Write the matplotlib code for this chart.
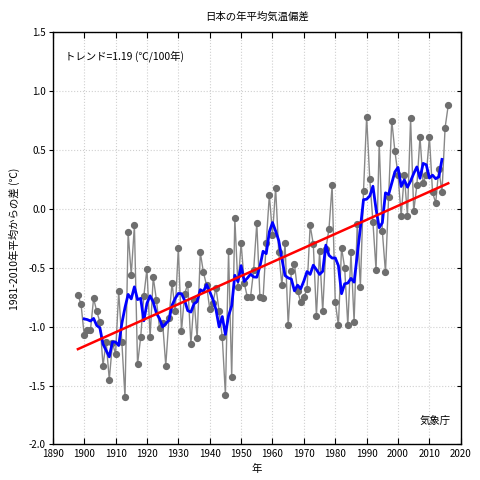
import numpy as np
import matplotlib
matplotlib.use("Agg")
import matplotlib.pyplot as plt

plt.rcParams['font.family'] = ['Noto Sans CJK JP', 'DejaVu Sans']

# 日本の年平均気温偏差 (1981-2010年平均からの差, ℃)
years = np.arange(1898, 2017)
anomaly = [
    -0.73, -0.81, -1.07, -1.03, -1.03, -0.76, -0.87, -0.96, -1.33, -1.13,   # 1898-1907
    -1.45, -1.14, -1.23, -0.70, -1.13, -1.60, -0.20, -0.56, -0.14, -1.32,   # 1908-1917
    -1.09, -0.74, -0.51, -1.09, -0.58, -0.77, -1.01, -0.97, -1.33, -0.93,   # 1918-1927
    -0.63, -0.87, -0.33, -1.04, -0.72, -0.64, -1.15, -0.77, -1.10, -0.37,   # 1928-1937
    -0.54, -0.65, -0.85, -0.80, -0.67, -0.87, -1.09, -1.58, -0.36, -1.43,   # 1938-1947
    -0.08, -0.66, -0.29, -0.63, -0.75, -0.75, -0.52, -0.12, -0.75, -0.76,   # 1948-1957
    -0.29, 0.12, -0.22, 0.18, -0.37, -0.65, -0.29, -0.99, -0.53, -0.47,     # 1958-1967
    -0.70, -0.79, -0.75, -0.68, -0.14, -0.30, -0.91, -0.36, -0.87, -0.34,   # 1968-1977
    -0.17, 0.20, -0.79, -0.99, -0.33, -0.50, -0.99, -0.37, -0.96, -0.13,    # 1978-1987
    -0.66, 0.15, 0.78, 0.25, -0.11, -0.52, 0.56, -0.19, -0.54, 0.10,        # 1988-1997
    0.75, 0.49, 0.29, -0.06, 0.29, -0.06, 0.77, -0.02, 0.20, 0.61,          # 1998-2007
    0.22, 0.29, 0.61, 0.14, 0.05, 0.34, 0.14, 0.69, 0.88,                   # 2008-2016
]
anomaly = np.array(anomaly)

x_ticks = np.arange(1890, 2021, 10)
y_ticks = np.arange(-2.0, 1.51, 0.5)

# 5年移動平均
run5 = np.convolve(anomaly, np.ones(5) / 5, mode='valid')
run_years = years[2:-2]

# 長期変化傾向
coef = np.polyfit(years, anomaly, 1)
trend = np.polyval(coef, years)

fig = plt.figure(figsize=(4.8, 4.8), dpi=100)
ax = fig.add_axes([0.110, 0.074, 0.850, 0.859])

ax.plot(years, anomaly, color='#888888', lw=1.0, marker='o', ms=4.2,
        mfc='#6e6e6e', mec='#6e6e6e', zorder=2)
ax.plot(run_years, run5, color='#0000ff', lw=2.0, zorder=3)
ax.plot(years, trend, color='#ff0000', lw=1.8, zorder=4)

ax.set_xlim(1890, 2020)
ax.set_ylim(-2.0, 1.5)
ax.set_xticks(x_ticks)
ax.set_yticks(y_ticks)
ax.set_yticklabels([f'{v:.1f}' for v in y_ticks])
ax.grid(True, color='#d0d0d0', ls=':', lw=0.8)
ax.tick_params(axis='x', direction='in', top=True, length=4, labelsize=7, pad=3)
ax.tick_params(axis='y', direction='out', length=3, labelsize=7, pad=2)
ax.tick_params(axis='y', which='both', right=True)
for t in ax.yaxis.get_ticklines()[1::2]:
    t.set_marker(0)
for sp in ax.spines.values():
    sp.set_color('black')
    sp.set_linewidth(1.0)

ax.set_title('日本の年平均気温偏差', fontsize=7.5, pad=9)
ax.set_xlabel('年', fontsize=7.5, labelpad=4)
ax.set_ylabel('1981-2010年平均からの差 (℃)', fontsize=7.5, labelpad=6)

ax.text(0.03, 0.955, 'トレンド=1.19 (℃/100年)', transform=ax.transAxes,
        fontsize=7.5, va='top', ha='left')
ax.text(0.975, 0.045, '気象庁', transform=ax.transAxes,
        fontsize=7.5, va='bottom', ha='right')

fig.savefig('out.png', dpi=100)
